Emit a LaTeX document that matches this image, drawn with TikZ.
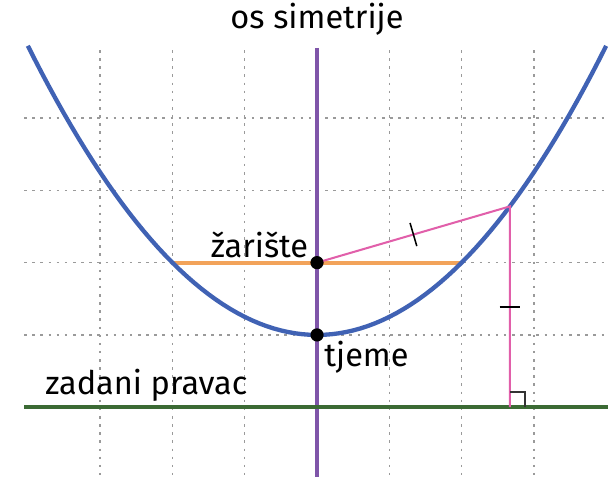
\documentclass[tikz,border=0pt]{standalone}
\usepackage{fontspec}
\setmainfont{Fira Sans}
\usepackage{tikz}
\usetikzlibrary{calc}
\definecolor{pbBlue}{HTML}{4062B4}
\definecolor{pbPurple}{HTML}{7F55A9}
\definecolor{pbOrange}{HTML}{F2A35A}
\definecolor{pbGreen}{HTML}{3B6A34}
\definecolor{pbPink}{HTML}{E15FAA}
\definecolor{pbGrid}{HTML}{9A9A9A}

\tikzset{
  gridline/.style={pbGrid, line width=0.5pt, dash pattern=on 1pt off 2.2pt},
  dot/.style={circle, fill=black, inner sep=0pt, minimum size=5.2pt},
  lbl/.style={font=\fontsize{12.8}{15}\selectfont, inner sep=1pt},
  tick/.style={black, line width=0.6pt}
}

\begin{document}
\begin{tikzpicture}
  \useasboundingbox (-4.385,-1.964) rectangle (4.025,4.633);
  % grid
  \foreach \x in {-3,-2,-1,1,2,3}
    \draw[gridline] (\x,3.94) -- (\x,-1.964);
  \foreach \y in {-1,0,1,2,3}
    \draw[gridline] (-4.05,\y) -- (4.025,\y);

  \coordinate (V) at (0,0);
  \coordinate (F) at (0,1);
  \coordinate (P) at (2.667,1.778);
  \coordinate (D) at (2.667,-1);

  % axis and given line
  \draw[pbPurple, line width=1.3pt] (0,3.97) -- (0,-1.964);
  \draw[pbGreen, line width=1.5pt] (-4.05,-1) -- (4.025,-1);

  % chord through focus
  \draw[pbOrange, line width=1.6pt] (-2,1) -- (F) -- (2,1);

  % parabola
  \draw[pbBlue, line width=1.7pt, domain=-4:4, samples=81] plot (\x,{\x*\x/4});

  % equal distances
  \draw[pbPink, line width=0.8pt] (F) -- (P) -- (D);
  \draw[tick] ($(F)!0.5!(P)!0.12!90:(P)$) -- ($(F)!0.5!(P)!0.12!-90:(P)$);
  \draw[tick] ($(P)!0.5!(D)+(-0.14,0)$) -- ($(P)!0.5!(D)+(0.14,0)$);
  \draw[black!80, line width=0.6pt] ($(D)+(0,0.21)$) -- ++(0.21,0) -- ++(0,-0.21);

  \node[dot] (focus) at (F) {};
  \node[dot] (vertex) at (V) {};

  \node[lbl] (axis) at (0,4.36) {os simetrije};
  \node[lbl, anchor=south east] (flabel) at (-0.08,1.03) {žarište};
  \node[lbl, anchor=north west] (vlabel) at (0.06,-0.04) {tjeme};
  \node[lbl, anchor=south west] (dlabel) at (-3.8,-0.96) {zadani pravac};
\end{tikzpicture}
\end{document}
